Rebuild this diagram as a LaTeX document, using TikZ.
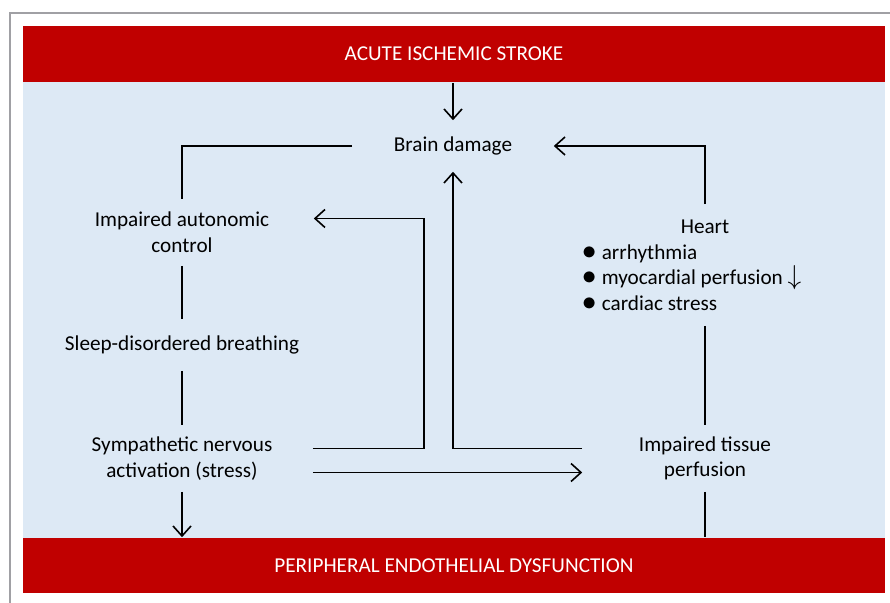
\documentclass[tikz,border=0pt]{standalone}
\usepackage{fontspec}
\setmainfont{Carlito}
\usetikzlibrary{arrows.meta}
\definecolor{bandred}{HTML}{C00000}
\definecolor{paleblue}{HTML}{DDE9F5}
\definecolor{framegray}{HTML}{A0A0A4}
\newcommand{\dotmark}{\scalebox{1.3}{$\bullet$}}
\tikzset{
  band/.style={fill=bandred, text=white, minimum width=431pt, inner sep=0pt},
  txt/.style={align=center, inner sep=0pt},
}

\begin{document}
\begin{tikzpicture}[x=0.5pt,y=-0.5pt,line width=0.8pt,>={Straight Barb[length=5pt,width=9pt]},
    font=\fontsize{10.6}{12.8}\selectfont]
        \useasboundingbox (0,0) rectangle (890,603);
        \draw[framegray, line width=1pt] (9.5,603) -- (9.5,13.5) -- (890,13.5);
        \fill[paleblue] (23,82) rectangle (885,538);
        \node[band, minimum height=28pt] (stroke) at (454,54) {ACUTE ISCHEMIC STROKE};
        \node[band, minimum height=27.5pt] (endo) at (454,565.5) {PERIPHERAL ENDOTHELIAL DYSFUNCTION};
        \node[txt, minimum width=100pt, minimum height=25pt] (brain) at (453,146) {Brain damage};
        \node[txt, minimum width=131pt, minimum height=32.5pt] (auto) at (182,232.5) {Impaired autonomic\\control};
        \node[txt, minimum height=25pt] (sleep) at (182,345) {Sleep-disordered breathing};
        \node[txt, minimum width=130pt, minimum height=32.5pt] (symp) at (182,458.5) {Sympathetic nervous\\activation (stress)};
        \node[txt, minimum width=122pt, minimum height=32.5pt] (tissue) at (705,458.5) {Impaired tissue\\perfusion};
        \node[txt, minimum height=22pt] (heart) at (705,227) {Heart};
        \node[txt, align=left, minimum height=47.5pt, anchor=west] (list) at (582,277.5)
          {\dotmark\ arrhythmia\\\dotmark\ myocardial perfusion \scalebox{1.25}{$\downarrow$}\\\dotmark\ cardiac stress};
        % main flow
        \draw[->] (brain.north |- stroke.south) -- (brain.north);
        \draw (brain.west) -| (auto.north);
        \draw (auto.south) -- (sleep.north);
        \draw (sleep.south) -- (symp.north);
        \draw[->] (symp.south) -- (symp.south |- endo.north);
        \draw[->] ([yshift=5pt]symp.east) -- ++(111,0) |- ([yshift=7pt]auto.east);
        \draw[->] ([yshift=-7pt]symp.east) -- ([yshift=-7pt]tissue.west);
        \draw[->] ([yshift=5pt]tissue.west) -| (brain.south);
        \draw (tissue.south) -- (tissue.south |- endo.north);
        \draw (heart |- list.south) -- (tissue.north);
        \draw[->] (heart.north) |- (brain.east);
\end{tikzpicture}
\end{document}
